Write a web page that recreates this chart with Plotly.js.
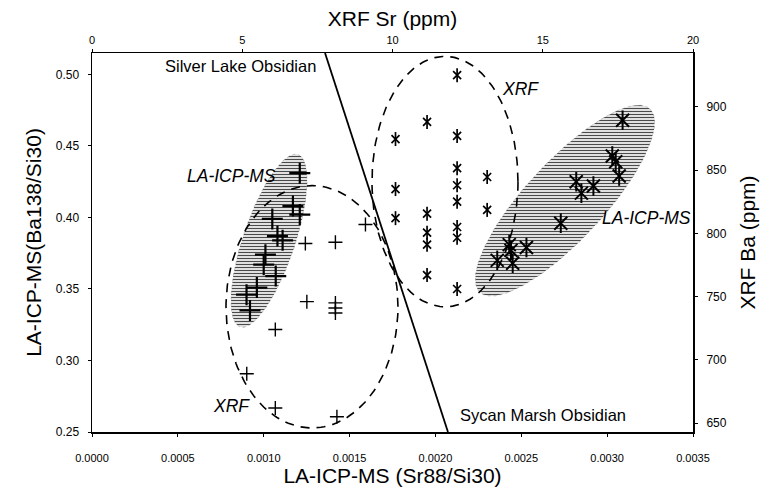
<!DOCTYPE html>
<html><head><meta charset="utf-8">
<script src="https://cdn.plot.ly/plotly-3.0.1.min.js"></script>
<style>html,body{margin:0;padding:0;background:#fff}</style>
</head><body><div id="chart" style="width:770px;height:495px"></div>
<script>
// ---- Data ----
// LA-ICP-MS, Silver Lake obsidian (large plus)
const slLaX = [0.00121, 0.00117, 0.00121, 0.00105, 0.00108, 0.00111, 0.00101, 0.00100, 0.00107, 0.00096, 0.00090, 0.00092];
const slLaY = [0.431, 0.408, 0.402, 0.399, 0.387, 0.384, 0.374, 0.367, 0.359, 0.351, 0.346, 0.335];
// LA-ICP-MS, Sycan Marsh obsidian (large star)
const smLaX = [0.00309, 0.00303, 0.00305, 0.00307, 0.00282, 0.00292, 0.00285, 0.00273, 0.00243, 0.00244, 0.00253, 0.00236, 0.00245];
const smLaY = [0.468, 0.443, 0.439, 0.429, 0.425, 0.422, 0.417, 0.396, 0.381, 0.377, 0.379, 0.370, 0.368];
// XRF, Silver Lake obsidian (small plus) : Sr ppm / Ba ppm
const slXrfSr = [9.1, 8.1, 7.1, 7.15, 8.1, 8.1, 8.1, 6.1, 5.15, 6.1, 8.15];
const slXrfBa = [807, 793, 792, 746, 745, 741, 737, 724, 689, 662, 655];
// XRF, Sycan Marsh obsidian (small star)
const smXrfSr = [12.15, 11.15, 10.1, 12.15, 12.15, 13.15, 12.15, 10.1, 12.15, 13.15, 10.1, 11.15, 12.15, 12.15, 11.15, 11.15, 11.15, 12.15];
const smXrfBa = [925, 888, 874.5, 877, 851.5, 844.5, 838, 835, 825, 818.5, 812, 815.5, 805, 796.5, 800.5, 791, 767, 756];

// Group envelopes (centre, semi-axis vectors) in LA-ICP-MS units
const envSlLa = {c: [0.0010308, 0.38375], u: [0.00016888, 0.060224], v: [0.0001435, -0.005819]};
const envSmLa = {c: [0.0027546, 0.41176], u: [0.00049501, 0.064076], v: [0.00016655, -0.018627]};
const envSlXrf = {c: [0.0012812, 0.33754], u: [0.00050083, 0], v: [0, 0.084734]};
const envSmXrf = {c: [0.0020557, 0.42507], u: [0.00042512, 0], v: [0, 0.087535]};
// Dividing line between sources
const dividerX = [0.001357, 0.002073];
const dividerY = [0.515, 0.25];

function ellipse(e) {
  const xs = [], ys = [];
  for (let i = 0; i <= 180; i++) {
    const t = 2 * Math.PI * i / 180;
    xs.push(e.c[0] + e.u[0] * Math.cos(t) + e.v[0] * Math.sin(t));
    ys.push(e.c[1] + e.u[1] * Math.cos(t) + e.v[1] * Math.sin(t));
  }
  return {x: xs, y: ys};
}

const FONT = 'Liberation Sans, Arial, sans-serif';
const traces = [];
[envSlLa, envSmLa].forEach(e => {
  const p = ellipse(e);
  traces.push({x: p.x, y: p.y, mode: 'lines', fill: 'toself', hoverinfo: 'skip',
    line: {color: 'rgba(110,110,110,0.6)', width: 0.6, dash: 'dot'},
    fillcolor: 'rgba(0,0,0,0)',
    fillpattern: {shape: '-', fgcolor: '#4a4a4a', bgcolor: 'rgba(255,255,255,0)', size: 3, solidity: 0.45}});
});
[envSlXrf, envSmXrf].forEach(e => {
  const p = ellipse(e);
  traces.push({x: p.x, y: p.y, mode: 'lines', hoverinfo: 'skip',
    line: {color: '#000', width: 1.6, dash: '9px,7px'}});
});
traces.push({x: dividerX, y: dividerY, mode: 'lines', line: {color: '#000', width: 1.8}});

// LA-ICP-MS markers
traces.push({x: slLaX, y: slLaY, mode: 'markers',
  marker: {symbol: 'cross-thin-open', size: 15, color: '#000', line: {color: '#000', width: 2.2}}});
traces.push({x: smLaX, y: smLaY, mode: 'markers',
  marker: {symbol: 'x-thin-open', size: 13, color: '#000', line: {color: '#000', width: 2}}});
traces.push({x: smLaX, y: smLaY, mode: 'markers',
  marker: {symbol: 'line-ns-open', size: 14, color: '#000', line: {color: '#000', width: 2}}});
// XRF markers on secondary axes
traces.push({x: slXrfSr, y: slXrfBa, xaxis: 'x2', yaxis: 'y2', mode: 'markers',
  marker: {symbol: 'cross-thin-open', size: 10, color: '#000', line: {color: '#000', width: 1.4}}});
traces.push({x: smXrfSr, y: smXrfBa, xaxis: 'x2', yaxis: 'y2', mode: 'markers',
  marker: {symbol: 'x-thin-open', size: 8, color: '#000', line: {color: '#000', width: 1.7}}});
traces.push({x: smXrfSr, y: smXrfBa, xaxis: 'x2', yaxis: 'y2', mode: 'markers',
  marker: {symbol: 'line-ns-open', size: 10, color: '#000', line: {color: '#000', width: 1.7}}});

const axisBase = {showgrid: false, zeroline: false, showline: true, linecolor: '#000', linewidth: 1.5,
  ticks: 'outside', ticklen: 3, tickcolor: '#000', tickfont: {family: FONT, size: 11, color: '#000'}};

const italic = {family: FONT, size: 17.5, color: '#000', style: 'italic'};
const plain = {family: FONT, size: 16.5, color: '#000'};

const layout = {
  width: 770, height: 495,
  margin: {l: 92, r: 77, t: 53, b: 63},
  paper_bgcolor: '#fff', plot_bgcolor: '#fff',
  showlegend: false,
  font: {family: FONT, color: '#000'},
  xaxis: Object.assign({}, axisBase, {range: [0, 0.0035], dtick: 0.0005, tick0: 0, tickformat: '.4f',
    ticklabelstandoff: 12, tickfont: {family: FONT, size: 11, color: '#000'},
    title: {text: 'LA-ICP-MS (Sr88/Si30)', font: {family: FONT, size: 21, color: '#000'}, standoff: 4}}),
  yaxis: Object.assign({}, axisBase, {range: [0.25, 0.515], dtick: 0.05, tick0: 0.25, tickformat: '.2f',
    ticklabelstandoff: 6, tickfont: {family: FONT, size: 12, color: '#000'},
    title: {text: 'LA-ICP-MS(Ba138/Si30)', font: {family: FONT, size: 21, color: '#000'}, standoff: 8}}),
  xaxis2: Object.assign({}, axisBase, {overlaying: 'x', side: 'top', anchor: 'y', range: [0, 20], dtick: 5,
    ticklabelstandoff: 0, tickfont: {family: FONT, size: 11, color: '#000'},
    title: {text: 'XRF Sr (ppm)', font: {family: FONT, size: 21, color: '#000'}, standoff: 1}}),
  yaxis2: Object.assign({}, axisBase, {overlaying: 'y', side: 'right', anchor: 'x', range: [643, 942.5], dtick: 50, tick0: 650,
    linewidth: 2, ticklabelstandoff: 6, tickfont: {family: FONT, size: 12, color: '#000'},
    title: {text: 'XRF Ba (ppm)', font: {family: FONT, size: 21, color: '#000'}, standoff: 15}}),
  annotations: [
    {text: 'Silver Lake Obsidian', x: 0.001316, y: 0.5056, xref: 'x', yref: 'y', xanchor: 'right', showarrow: false, font: plain},
    {text: 'Sycan Marsh Obsidian', x: 0.00213, y: 0.2619, xref: 'x', yref: 'y', xanchor: 'left', showarrow: false, font: plain},
    {text: 'LA-ICP-MS', x: 0.000815, y: 0.4293, xref: 'x', yref: 'y', showarrow: false, font: italic},
    {text: 'XRF', x: 0.0008095, y: 0.2682, xref: 'x', yref: 'y', showarrow: false, font: italic},
    {text: 'XRF', x: 0.0024925, y: 0.4895, xref: 'x', yref: 'y', showarrow: false, font: italic},
    {text: 'LA-ICP-MS', x: 0.0032263, y: 0.39936, xref: 'x', yref: 'y', showarrow: false, font: italic}
  ]
};

Plotly.newPlot('chart', traces, layout, {displayModeBar: false, staticPlot: true});
</script></body></html>
